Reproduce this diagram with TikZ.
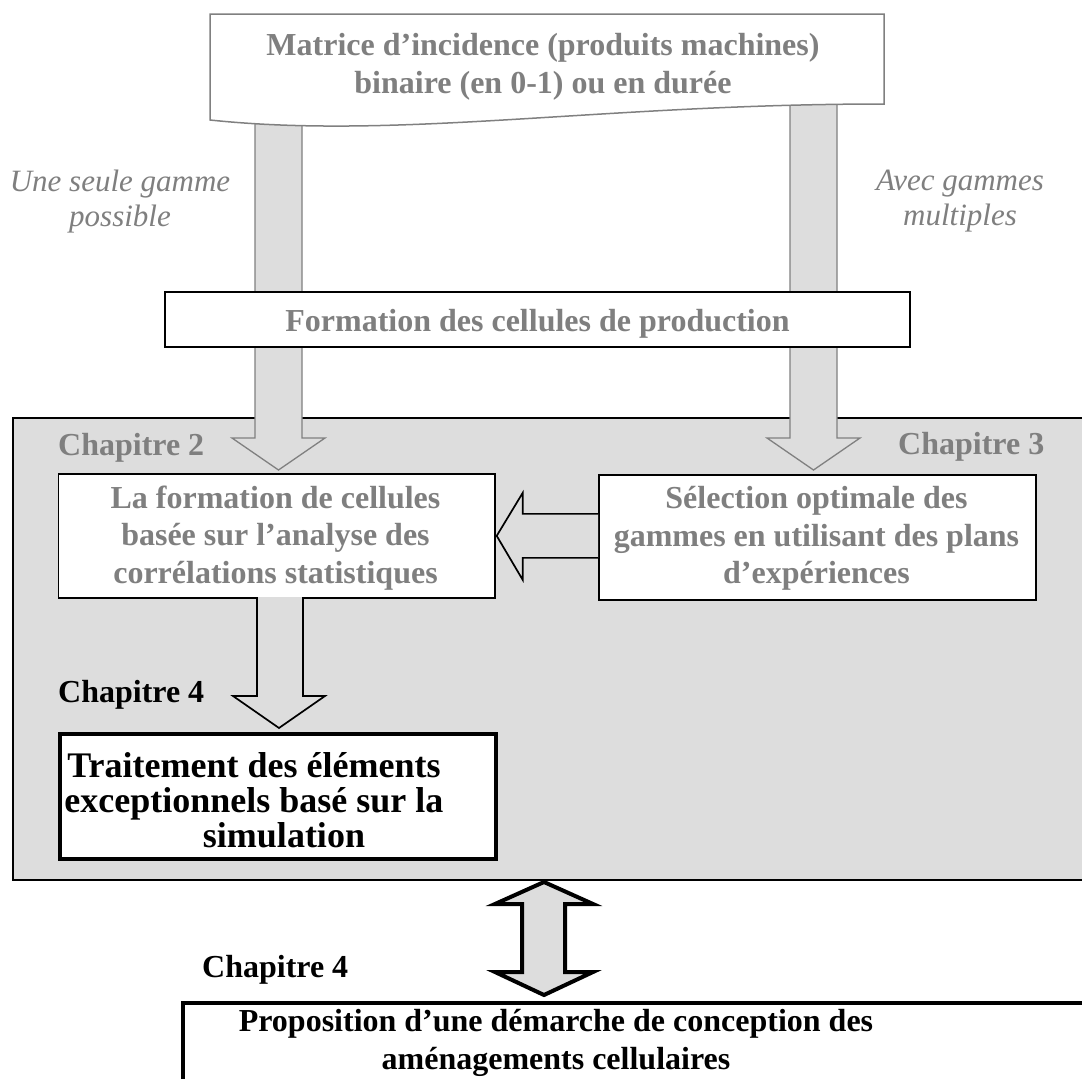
\documentclass[tikz,border=0pt]{standalone}
\usepackage{fontspec}
\setmainfont{Liberation Serif}
\usetikzlibrary{calc}
\definecolor{bgray}{HTML}{DDDDDD}
\definecolor{tgray}{HTML}{7F7F7F}
\definecolor{egray}{HTML}{808080}
\newcommand{\myfA}{\fontsize{32}{38}\selectfont\bfseries}
\newcommand{\myfB}{\fontsize{32}{37.5}\selectfont\bfseries}
\newcommand{\myfI}{\fontsize{31}{35}\selectfont\itshape}
\begin{document}
\begin{tikzpicture}[x=1pt,y=-1pt,
  txt/.style={inner sep=0pt, align=center, execute at begin node=\strut, execute at end node=\strut},
  chap/.style={inner sep=0pt, anchor=base west, font=\myfA},
  whitebox/.style={draw=black, fill=white, line width=1.7pt, inner sep=0pt, anchor=north west},
  thickbox/.style={draw=black, fill=white, line width=4pt, inner sep=0pt, anchor=north west},
  colarrow/.style={draw=egray, fill=bgray, line width=1.3pt},
  blkarrow/.style={draw=black, fill=bgray, line width=1.7pt},
  dblarrow/.style={draw=black, fill=bgray, line width=4pt}]
\useasboundingbox (0,0) rectangle (1082,1079);
\clip (0,0) rectangle (1082,1079);
\fill[white] (0,0) rectangle (1082,1079);

% big grey frame
\node[draw=black, fill=bgray, line width=2pt, inner sep=0pt, anchor=north west,
      minimum width=1100pt, minimum height=462pt] (frame) at (12,417) {};

% two grey block arrows from the document
\draw[colarrow] (255,100) -- (255,438) -- (232,438) -- (278.5,470) -- (325,438) -- (302,438) -- (302,100) -- cycle;
\draw[colarrow] (790,100) -- (790,438) -- (767,438) -- (813.5,470) -- (860,438) -- (837,438) -- (837,100) -- cycle;

% document shape
\draw[draw=egray, fill=white, line width=1.5pt] (210,14) -- (884,14) -- (884,104)
  .. controls (600,104) and (400,140) .. (210,120) -- cycle;
\node[txt, font=\myfA, text=tgray] (doc) at (543,69)
  {Matrice d’incidence (produits machines)\\binaire (en 0-1) ou en durée};

% formation box
\node[draw=black, fill=white, line width=2pt, minimum width=745pt, minimum height=55pt,
      inner sep=0pt, text height=34pt, text depth=11pt, font=\myfA, text=tgray] (form)
  at (537.5,319.5) {Formation des cellules de production};

% side labels
\node[txt, font=\myfI, text=tgray] (une) at (120,203.5) {Une seule gamme\\possible};
\node[txt, font=\myfI, text=tgray] (avec) at (960,203.5) {Avec gammes\\multiples};

% chapter labels
\node[chap, text=tgray] (ch2) at (58,455) {Chapitre 2};
\node[chap, text=tgray] (ch3) at (898,454) {Chapitre 3};
\node[chap, text=black] (ch4a) at (58,702) {Chapitre 4};
\node[chap, text=black] (ch4b) at (202,977) {Chapitre 4};

% inner boxes
\node[whitebox, minimum width=436.5pt, minimum height=124pt] (lf) at (57.5,473) {};
\node[txt, font=\myfB, text=tgray] (lftxt) at (275.5,540)
  {La formation de cellules\\basée sur l’analyse des\\corrélations statistiques};
\node[whitebox, minimum width=437pt, minimum height=125pt] (sel) at (598,474) {};
\node[txt, font=\myfB, text=tgray] (seltxt) at (816.5,541)
  {Sélection optimale des\\gammes en utilisant des plans\\d’expériences};

% arrow from selection to formation
\draw[blkarrow] ($(sel.west |- lf.east)+(0,-22)$) -- ($(lf.east)+(27,-22)$) -- ($(lf.east)+(27,-43)$)
  -- ($(lf.east)+(1,0)$) -- ($(lf.east)+(27,44)$) -- ($(lf.east)+(27,22)$)
  -- ($(sel.west |- lf.east)+(0,22)$);

% traitement box
\node[thickbox, minimum width=436pt, minimum height=125pt] (tr) at (58,732) {};
\node[txt, font=\fontsize{36}{35}\selectfont\bfseries, text=black] (trtxt) at (254,805)
  {Traitement des éléments\\exceptionnels basé sur la\\\hspace*{60pt}simulation};

% arrow from formation to traitement
\draw[blkarrow] (257,597) -- (257,696) -- (233,696) -- (279,728) -- (325,696) -- (303,696) -- (303,597);

% bottom box
\node[thickbox, minimum width=1000pt, minimum height=200pt] (prop) at (180.5,1001) {};
\node[txt, font=\fontsize{32}{38}\selectfont\bfseries, text=black] (proptxt) at (556,1045.4)
  {Proposition d’une démarche de conception des\\aménagements cellulaires};

% double arrow
\draw[dblarrow] (544,882) -- (593,904) -- (565,904) -- (565,972) -- (593,972) -- (544,995)
  -- (495,972) -- (522,972) -- (522,904) -- (495,904) -- cycle;
\end{tikzpicture}
\end{document}
